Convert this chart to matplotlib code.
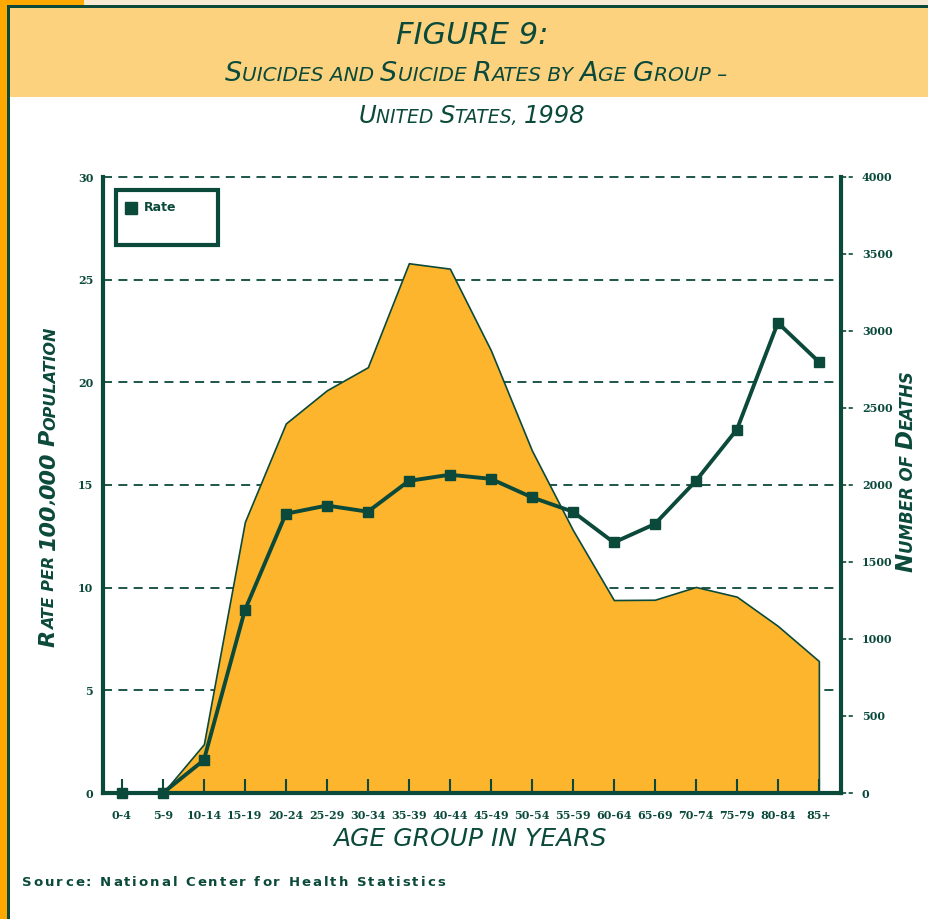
import numpy as np
import matplotlib
matplotlib.use("Agg")
import matplotlib.pyplot as plt
from matplotlib.patches import Rectangle
from matplotlib.lines import Line2D

# data
age_groups = ["0-4", "5-9", "10-14", "15-19", "20-24", "25-29", "30-34", "35-39", "40-44",
              "45-49", "50-54", "55-59", "60-64", "65-69", "70-74", "75-79", "80-84", "85+"]
rate = [0, 0, 1.6, 8.9, 13.6, 14.0, 13.7, 15.2, 15.5, 15.3, 14.4, 13.7, 12.2, 13.1, 15.2, 17.7, 22.9, 21.0]
deaths = [0, 0, 317, 1760, 2400, 2615, 2765, 3440, 3405, 2875, 2225, 1708, 1253, 1255, 1338, 1275, 1085, 857]
rate_ticks = [0, 5, 10, 15, 20, 25, 30]
death_ticks = [0, 500, 1000, 1500, 2000, 2500, 3000, 3500, 4000]

GREEN = "#0b4a3a"
ORANGE = "#fcb52c"
HEADER = "#fdd27e"
W, H = 929, 919

fig = plt.figure(figsize=(W / 100, H / 100), dpi=100)
fig.patch.set_facecolor("white")


def px(x, y):
    # pixel (from top-left) to figure fraction
    return x / W, 1 - y / H


def rect(x0, y0, x1, y1, color):
    fig.patches.append(Rectangle(px(x0, y1), (x1 - x0) / W, (y1 - y0) / H,
                                 transform=fig.transFigure, color=color, lw=0, zorder=-5))


# page frame bits
rect(0, 0, 929, 6, "#f6ead3")
rect(0, 0, 84, 6, "#ffa800")
rect(0, 0, 7, 919, "#ffa800")
rect(7, 5, 10, 919, GREEN)
rect(7, 5, 929, 8, GREEN)
rect(10, 8, 929, 97, HEADER)

renderer = fig.canvas.get_renderer()


def piece_width(s, **kw):
    t = fig.text(0, 0, "|" + s + "|", **kw)
    t2 = fig.text(0, 0, "||", **kw)
    w = t.get_window_extent(renderer).width - t2.get_window_extent(renderer).width
    t.remove()
    t2.remove()
    return w


def split_caps(text, big, small):
    pieces = []
    for ch in text:
        size = big if (ch.isupper() or ch.isdigit()) else small
        if pieces and pieces[-1][1] == size:
            pieces[-1][0] += ch.upper()
        else:
            pieces.append([ch.upper(), size])
    return pieces


def text_run(x, y, pieces, rotation=0, ha="center", tracking=0, **kw):
    widths = [piece_width(s, fontsize=sz, **kw) for s, sz in pieces]
    total = sum(widths) + tracking * (len(pieces) - 1)
    start = -total / 2 if ha == "center" else 0
    off = start
    for (s, sz), w in zip(pieces, widths):
        if rotation == 0:
            pos = px(x + off, y)
        else:
            pos = px(x, y - off)
        fig.text(pos[0], pos[1], s, fontsize=sz, rotation=rotation, rotation_mode="anchor",
                 ha="left", va="baseline", **kw)
        off += w + tracking


title_font = dict(family=["Liberation Sans Narrow", "DejaVu Sans"], style="italic", color=GREEN)
text_run(472, 44, [["FIGURE 9:", 22]], **title_font)
text_run(476, 81, split_caps("Suicides and Suicide Rates by Age Group –", 19.5, 14.5), **title_font)
text_run(472, 123, split_caps("United States, 1998", 17.5, 13.5), **title_font)

# main axes
ax = fig.add_axes([103 / W, 1 - 793 / H, (841 - 103) / W, (793 - 177) / H])
ax2 = ax.twinx()

x = np.arange(len(age_groups))
ax.set_xlim(-0.46, len(age_groups) - 0.46)
ax.set_ylim(0, 30)
ax2.set_ylim(0, 4000)

ax.set_axisbelow(True)
ax.yaxis.grid(True, color=GREEN, linestyle=(0, (5, 3.5)), lw=1.3)
for gl in ax.get_ygridlines():
    gl.set_clip_on(False)

# deaths area drawn in right-axis units, under the rate line
ax.fill_between(x, deaths, 0, transform=ax2.transData, facecolor=ORANGE,
                edgecolor=GREEN, lw=1.2, zorder=1)
ax.vlines(x, 0, 0.7, color=GREEN, lw=1.5, zorder=2)

ax.plot(x, rate, color=GREEN, lw=2.8, marker="s", markersize=7.5, clip_on=False, zorder=4)

tick_font = dict(family="DejaVu Serif", weight="bold", size=8)
ax.set_xticks(x)
ax.set_xticklabels(age_groups, color=GREEN, **tick_font)
ax.tick_params(axis="x", length=0, pad=12)
ax.set_yticks(rate_ticks)
ax.set_yticklabels([str(v) for v in rate_ticks], color=GREEN, **tick_font)
ax.tick_params(axis="y", length=0, pad=7)
ax2.set_yticks(death_ticks)
ax2.set_yticklabels([str(v) for v in death_ticks], color=GREEN, **tick_font)
ax2.tick_params(axis="y", length=0, pad=15)
ax2.hlines(death_ticks, 1.002, 1.016, transform=ax2.get_yaxis_transform(),
           color=GREEN, lw=1.2, linestyle=(0, (2.5, 1.5)), clip_on=False)

for a in (ax, ax2):
    for side in ("top", "left", "right", "bottom"):
        a.spines[side].set_visible(False)
for side, a in (("left", ax), ("bottom", ax), ("right", ax2)):
    a.spines[side].set_visible(True)
    a.spines[side].set_color(GREEN)
    a.spines[side].set_linewidth(3)

# legend box
ax.add_patch(Rectangle((0.0176, 0.8896), 0.1382, 0.0893, transform=ax.transAxes,
                       fill=False, edgecolor=GREEN, lw=3, zorder=5))
ax.add_line(Line2D([0.0379], [0.9497], transform=ax.transAxes, marker="s",
                   markersize=8, color=GREEN, linestyle="none", zorder=5))
ax.text(0.0556, 0.9497, "Rate", transform=ax.transAxes, va="center", ha="left",
        family="DejaVu Sans", weight="bold", size=9, color=GREEN, zorder=5)

# axis titles
label_font = dict(family="DejaVu Sans", weight="heavy", style="italic", color=GREEN)
text_run(55, 487, split_caps("Rate per 100,000 Population", 16, 11.5), rotation=90, **label_font)
text_run(913, 471, split_caps("Number of Deaths", 16.5, 12), rotation=90, **label_font)
text_run(470, 846, [["AGE GROUP IN YEARS", 18]], **title_font)

# source line with wide letter spacing
src = "Source: National Center for Health Statistics"
text_run(22, 886, [[c, 9.5] for c in src], ha="left", tracking=2.0,
         family="DejaVu Sans", weight="bold", color=GREEN)

fig.savefig("out.png", dpi=100)
